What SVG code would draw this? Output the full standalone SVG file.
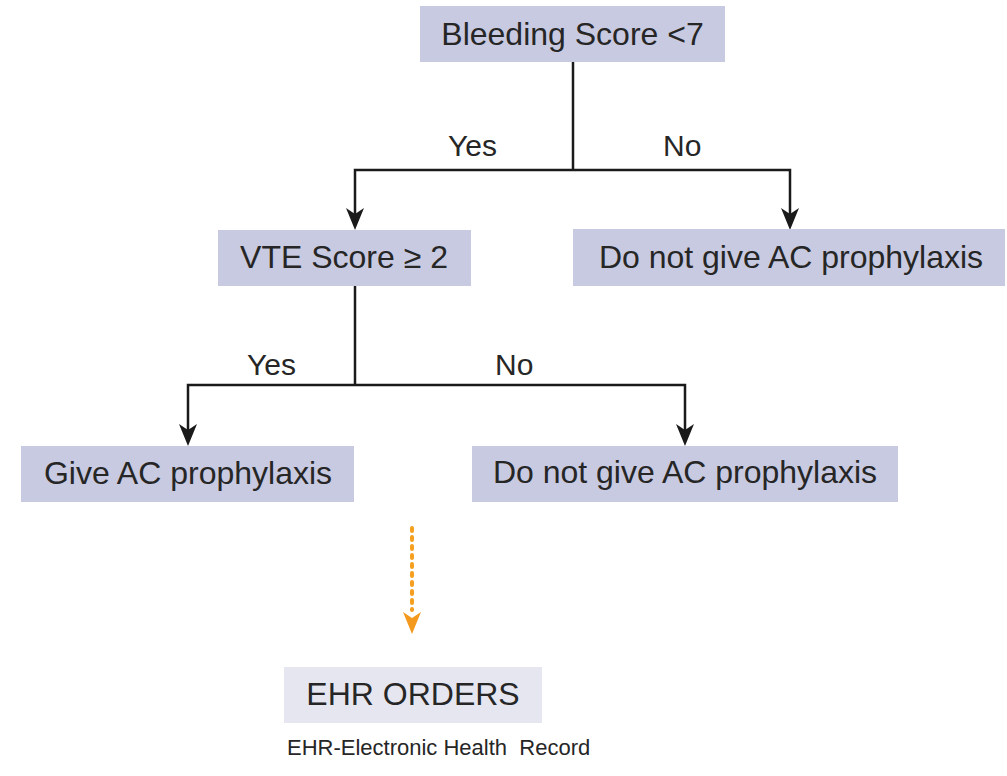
<svg xmlns="http://www.w3.org/2000/svg" width="1007" height="776" viewBox="0 0 1007 776">
<defs>
<style>
.box{fill:#c8cae1}
.box2{fill:#e6e6f1}
.t{font-family:"Liberation Sans",Arial,sans-serif;font-size:32px;fill:#262626}
.lbl{font-family:"Liberation Sans",Arial,sans-serif;font-size:30px;fill:#262626}
.foot{font-family:"Liberation Sans",Arial,sans-serif;font-size:22px;fill:#262626;white-space:pre}
.ln{fill:none;stroke:#1a1a1a;stroke-width:2.5}
.ah{fill:#1a1a1a}
.dot{fill:none;stroke:#f5a020;stroke-width:4;stroke-dasharray:3 6;stroke-linecap:round}
</style>
</defs>
<rect width="1007" height="776" fill="#ffffff"/>
<g id="connectors">
<path class="ln" d="M573,62 V170"/>
<path class="ln" d="M573,170 H355 V220"/>
<path class="ln" d="M573,170 H790 V220"/>
<path class="ln" d="M355,286 V385"/>
<path class="ln" d="M355,385 H188 V436"/>
<path class="ln" d="M355,385 H685 V436"/>
<path class="ah" d="M346,208 L355,214 L364,208 L355,230 Z"/>
<path class="ah" d="M781,208 L790,214 L799,208 L790,230 Z"/>
<path class="ah" d="M179,424 L188,430 L197,424 L188,446 Z"/>
<path class="ah" d="M676,424 L685,430 L694,424 L685,446 Z"/>
<path class="dot" d="M412,528 V610"/>
<path d="M403,612 L412,618 L421,612 L412,634 Z" fill="#f39a1e"/>
<text class="lbl" x="448" y="156">Yes</text>
<text class="lbl" x="663" y="156">No</text>
<text class="lbl" x="247" y="375">Yes</text>
<text class="lbl" x="495" y="375">No</text>
</g>
<g id="bleeding">
<rect class="box" x="420" y="6" width="305" height="56"/>
<text class="t" x="572.5" y="45" text-anchor="middle">Bleeding Score &lt;7</text>
</g>
<g id="vte">
<rect class="box" x="218" y="230" width="253" height="56"/>
<text class="t" x="344" y="268" text-anchor="middle">VTE Score ≥ 2</text>
</g>
<g id="no-ac-1">
<rect class="box" x="573" y="229" width="432" height="57"/>
<text class="t" x="791" y="268" text-anchor="middle">Do not give AC prophylaxis</text>
</g>
<g id="give-ac">
<rect class="box" x="21" y="446" width="333" height="56"/>
<text class="t" x="188" y="484" text-anchor="middle">Give AC prophylaxis</text>
</g>
<g id="no-ac-2">
<rect class="box" x="472" y="446" width="426" height="56"/>
<text class="t" x="685" y="483" text-anchor="middle">Do not give AC prophylaxis</text>
</g>
<g id="ehr">
<rect class="box2" x="284" y="667" width="258" height="56"/>
<text class="t" x="413" y="705" text-anchor="middle">EHR ORDERS</text>
</g>
<text class="foot" x="287" y="755">EHR-Electronic Health  Record</text>
</svg>
